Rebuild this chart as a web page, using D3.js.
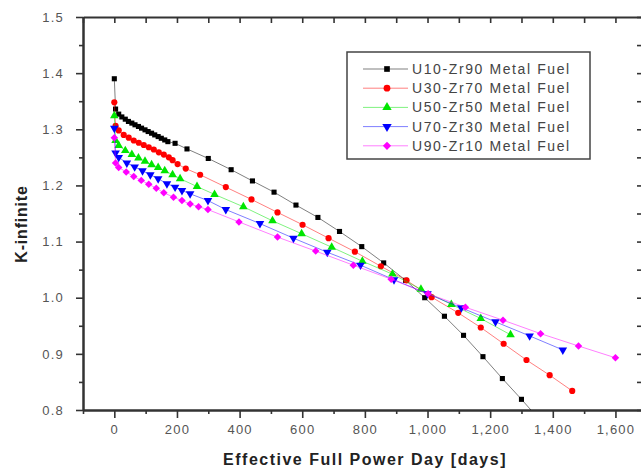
<!DOCTYPE html>
<html>
<head>
<meta charset="utf-8">
<script src="https://cdn.jsdelivr.net/npm/d3@7"></script>
<style>
body { margin: 0; background: #fff; }
text { font-family: "Liberation Sans", Arial, sans-serif; }
</style>
</head>
<body>
<script>
// values
var seriesNames = ["U10-Zr90 Metal Fuel", "U30-Zr70 Metal Fuel", "U50-Zr50 Metal Fuel", "U70-Zr30 Metal Fuel", "U90-Zr10 Metal Fuel"];
var seriesColors = ["#000000", "#ff0000", "#00e600", "#0000ff", "#ff00ff"];

var daysU10 = [0, 4, 14, 24, 35, 45, 56, 66, 77, 87, 98, 108, 119, 129, 140, 150, 161, 171, 194, 232, 300, 373, 441, 510, 580, 650, 719, 790, 860, 930, 991, 1054, 1115, 1177, 1239, 1300, 1362];
var kU10 = [1.390, 1.336, 1.327, 1.322, 1.318, 1.314, 1.311, 1.308, 1.305, 1.302, 1.299, 1.296, 1.293, 1.290, 1.287, 1.284, 1.281, 1.278, 1.275, 1.265, 1.248, 1.228, 1.208, 1.188, 1.165, 1.143, 1.118, 1.091, 1.062, 1.031, 1.000, 0.967, 0.933, 0.895, 0.856, 0.819, 0.780];

var daysU30 = [0, 4, 14, 30, 46, 62, 78, 94, 110, 126, 142, 158, 174, 186, 202, 228, 274, 356, 438, 521, 601, 684, 768, 851, 933, 1013, 1098, 1170, 1243, 1316, 1390, 1462];
var kU30 = [1.348, 1.306, 1.298, 1.290, 1.285, 1.280, 1.276, 1.272, 1.268, 1.264, 1.259, 1.255, 1.250, 1.245, 1.238, 1.230, 1.219, 1.197, 1.175, 1.152, 1.130, 1.106, 1.082, 1.056, 1.031, 1.001, 0.973, 0.947, 0.918, 0.889, 0.862, 0.834];

var daysU50 = [0, 4, 14, 35, 56, 77, 98, 119, 140, 161, 186, 210, 264, 320, 412, 505, 598, 694, 792, 888, 979, 1076, 1170, 1265];
var kU50 = [1.324, 1.280, 1.271, 1.262, 1.255, 1.249, 1.243, 1.237, 1.232, 1.226, 1.219, 1.212, 1.198, 1.184, 1.162, 1.137, 1.114, 1.090, 1.065, 1.042, 1.015, 0.988, 0.963, 0.934];

var daysU70 = [0, 4, 14, 40, 65, 90, 115, 140, 168, 194, 216, 242, 299, 356, 465, 572, 680, 786, 893, 1000, 1108, 1217, 1326, 1432];
var kU70 = [1.302, 1.258, 1.250, 1.240, 1.233, 1.226, 1.219, 1.212, 1.203, 1.197, 1.191, 1.185, 1.173, 1.157, 1.132, 1.106, 1.081, 1.058, 1.032, 1.007, 0.982, 0.957, 0.932, 0.907];

var daysU90 = [0, 4, 14, 38, 62, 86, 110, 134, 158, 189, 216, 242, 269, 299, 398, 521, 643, 763, 884, 1002, 1121, 1241, 1361, 1482, 1600];
var kU90 = [1.285, 1.240, 1.232, 1.224, 1.216, 1.209, 1.202, 1.195, 1.187, 1.179, 1.173, 1.167, 1.162, 1.157, 1.135, 1.108, 1.083, 1.058, 1.033, 1.007, 0.983, 0.960, 0.936, 0.914, 0.893];

var xTicks = [0, 200, 400, 600, 800, 1000, 1200, 1400, 1600];
var xMinorTicks = [-100, 100, 300, 500, 700, 900, 1100, 1300, 1500];
var yTicks = [0.8, 0.9, 1.0, 1.1, 1.2, 1.3, 1.4, 1.5];
var yMinorTicks = [0.85, 0.95, 1.05, 1.15, 1.25, 1.35, 1.45];

var allDays = [daysU10, daysU30, daysU50, daysU70, daysU90];
var allK = [kU10, kU30, kU50, kU70, kU90];
var symbols = [d3.symbolSquare, d3.symbolCircle, d3.symbolTriangle, d3.symbolTriangle, d3.symbolSquare];
var symbolRotate = [0, 0, 0, 180, 45];
var symbolSize = [26, 30, 32, 32, 28];

var width = 641, height = 475;
var plotLeft = 83, plotRight = 643, plotTop = 17, plotBottom = 410;

var svgContainer = d3.select("body").append("svg")
                                     .attr("width", width)
                                     .attr("height", height);

var x = d3.scaleLinear().domain([-100, 1688]).range([plotLeft, plotRight]);
var y = d3.scaleLinear().domain([0.8, 1.5]).range([plotBottom, plotTop]);

svgContainer.append("clipPath").attr("id", "plotclip")
  .append("rect").attr("x", plotLeft).attr("y", plotTop)
  .attr("width", plotRight - plotLeft).attr("height", plotBottom - plotTop);

// axes: bottom + left carry labels, top + right only ticks pointing in
function styleAxis(g) {
  g.selectAll("path.domain").attr("stroke", "#333").attr("stroke-width", 2);
  g.selectAll(".tick line").attr("stroke", "#333").attr("stroke-width", 1.6);
  g.selectAll(".tick text").attr("fill", "#555").attr("font-size", "13px").style("letter-spacing", "1.2px");
}

svgContainer.append("g").attr("transform", "translate(0," + plotBottom + ")")
  .call(d3.axisBottom(x).tickValues(xMinorTicks).tickSize(4).tickFormat("").tickSizeOuter(0))
  .call(styleAxis);
svgContainer.append("g").attr("transform", "translate(0," + plotBottom + ")")
  .call(d3.axisBottom(x).tickValues(xTicks).tickSize(8).tickPadding(7).tickFormat(d3.format(",")).tickSizeOuter(0))
  .call(styleAxis);

svgContainer.append("g").attr("transform", "translate(0," + plotTop + ")")
  .call(d3.axisBottom(x).tickValues(xTicks.concat(xMinorTicks)).tickSize(6).tickFormat("").tickSizeOuter(0))
  .call(styleAxis);

svgContainer.append("g").attr("transform", "translate(" + plotLeft + ",0)")
  .call(d3.axisLeft(y).tickValues(yMinorTicks).tickSize(4).tickFormat("").tickSizeOuter(0))
  .call(styleAxis);
svgContainer.append("g").attr("transform", "translate(" + plotLeft + ",0)")
  .call(d3.axisLeft(y).tickValues(yTicks).tickSize(7).tickPadding(12).tickFormat(d3.format(".1f")).tickSizeOuter(0))
  .call(styleAxis);

svgContainer.append("g").attr("transform", "translate(" + plotRight + ",0)")
  .call(d3.axisLeft(y).tickValues(yTicks.concat(yMinorTicks)).tickSize(6).tickFormat("").tickSizeOuter(0))
  .call(styleAxis);

// axis titles
svgContainer.append("text")
  .attr("x", 365).attr("y", 465)
  .attr("text-anchor", "middle")
  .attr("font-size", "16px").attr("font-weight", "bold").attr("fill", "#222")
  .style("letter-spacing", "1.5px")
  .text("Effective Full Power Day [days]");

svgContainer.append("text")
  .attr("transform", "translate(27,224) rotate(-90)")
  .attr("text-anchor", "middle")
  .attr("font-size", "16px").attr("font-weight", "bold").attr("fill", "#222")
  .style("letter-spacing", "0.8px")
  .text("K-infinite");

// series
var plot = svgContainer.append("g").attr("clip-path", "url(#plotclip)");
var line = d3.line().x(function(d){return x(d[0])}).y(function(d){return y(d[1])});

seriesNames.forEach(function(name, i) {
  var pts = allDays[i].map(function(d, j){return [d, allK[i][j]]});
  plot.append("path").datum(pts)
      .attr("d", line)
      .attr("fill", "none")
      .attr("stroke", seriesColors[i])
      .attr("stroke-opacity", 0.5)
      .attr("stroke-width", 1);
  plot.selectAll(".pt" + i).data(pts).enter().append("path")
      .attr("class", "pt" + i)
      .attr("d", d3.symbol().type(symbols[i]).size(symbolSize[i]))
      .attr("transform", function(d){return "translate(" + x(d[0]) + "," + y(d[1]) + ") rotate(" + symbolRotate[i] + ")"})
      .attr("fill", seriesColors[i]);
});

// legend
var legend = svgContainer.append("g");
legend.append("rect")
  .attr("x", 347).attr("y", 52).attr("width", 243).attr("height", 107)
  .attr("fill", "#fff").attr("stroke", "#444").attr("stroke-width", 1.5);

var rows = legend.selectAll("g.row").data(seriesNames).enter().append("g")
  .attr("transform", function(d, i){return "translate(0," + (69 + i * 19.2) + ")"});
rows.append("line")
  .attr("x1", 363).attr("x2", 408)
  .attr("stroke", function(d, i){return seriesColors[i]})
  .attr("stroke-opacity", 0.5).attr("stroke-width", 1);
rows.append("path")
  .attr("d", function(d, i){return d3.symbol().type(symbols[i]).size(symbolSize[i] + 6)()})
  .attr("transform", function(d, i){return "translate(387,0) rotate(" + symbolRotate[i] + ")"})
  .attr("fill", function(d, i){return seriesColors[i]});
rows.append("text")
  .attr("x", 412).attr("y", 5)
  .attr("font-size", "14px").attr("fill", "#444")
  .style("letter-spacing", "1.6px")
  .text(function(d){return d});
</script>
</body>
</html>
